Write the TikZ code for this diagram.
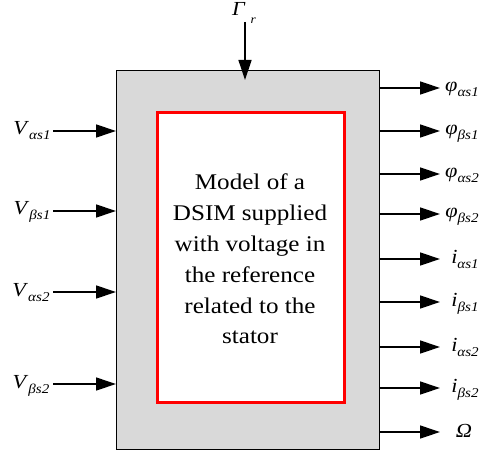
\documentclass[tikz,border=0pt]{standalone}
\usepackage{fontspec}
\setmainfont{Liberation Serif}
\newfontfamily\widefont{Liberation Serif}[FakeStretch=1.12]
\usetikzlibrary{arrows.meta}
\definecolor{boxgray}{HTML}{D9D9D9}
\newcommand{\symb}[2]{\textit{#1}\raisebox{-5bp}{\fontsize{13.5}{13.5}\selectfont\itshape #2}}
\begin{document}
\begin{tikzpicture}[x=1bp,y=-1bp,line width=1.3bp,
  >={Triangle[length=20bp,width=13bp]},
  lab/.style={font=\widefont\fontsize{20}{20}\selectfont,inner sep=0,anchor=base}]
\useasboundingbox (0,0) rectangle (484,454);
\node[draw,fill=boxgray,minimum width=263bp,minimum height=379bp,anchor=north west,inner sep=0] (outer) at (116,70) {};
\node[draw=red,line width=2.6bp,fill=white,minimum width=187bp,minimum height=290bp,anchor=north west,inner sep=0] (inner) at (156,111) {};
\node[align=center,font=\widefont\fontsize{22.5}{31}\selectfont,inner sep=0] (txt) at (250,259)
  {Model of a\\DSIM supplied\\with voltage in\\the reference\\related to the\\stator};
% top input
\coordinate (gtop) at (245,22);
\node[lab] (gam) at (244,16) {\textit{Γ}\hspace{5bp}\raisebox{-8bp}{\fontsize{12}{12}\selectfont\itshape r}};
\draw[->] (gtop) -- ++(0,58);
% left inputs
\coordinate (l1) at (53,131);
\coordinate (l2) at (53,211);
\coordinate (l3) at (53,292);
\coordinate (l4) at (53,384);
\node[lab] (v1) at (32,135) {\symb{V}{αs1}};
\node[lab] (v2) at (32,215) {\symb{V}{βs1}};
\node[lab] (v3) at (31,296) {\symb{V}{αs2}};
\node[lab] (v4) at (31,388) {\symb{V}{βs2}};
\foreach \c in {l1,l2,l3,l4} \draw[->] (\c) -- (\c -| outer.west);
% right outputs
\coordinate (r1) at (440,88);
\coordinate (r2) at (440,131);
\coordinate (r3) at (440,174);
\coordinate (r4) at (440,214);
\coordinate (r5) at (440,259);
\coordinate (r6) at (440,302);
\coordinate (r7) at (440,347);
\coordinate (r8) at (440,388);
\coordinate (r9) at (440,432);
\foreach \c in {r1,r2,r3,r4,r5,r6,r7,r8,r9} \draw[->] (\c -| outer.east) -- (\c);
\node[lab] (o1) at (462,92) {\symb{φ}{αs1}};
\node[lab] (o2) at (462,135) {\symb{φ}{βs1}};
\node[lab] (o3) at (462,178) {\symb{φ}{αs2}};
\node[lab] (o4) at (462,218) {\symb{φ}{βs2}};
\node[lab] (o5) at (465,263) {\symb{i}{αs1}};
\node[lab] (o6) at (465,306) {\symb{i}{βs1}};
\node[lab] (o7) at (465,351) {\symb{i}{αs2}};
\node[lab] (o8) at (465,392) {\symb{i}{βs2}};
\node[lab] (o9) at (464,437) {\textit{Ω}};
\end{tikzpicture}
\end{document}
